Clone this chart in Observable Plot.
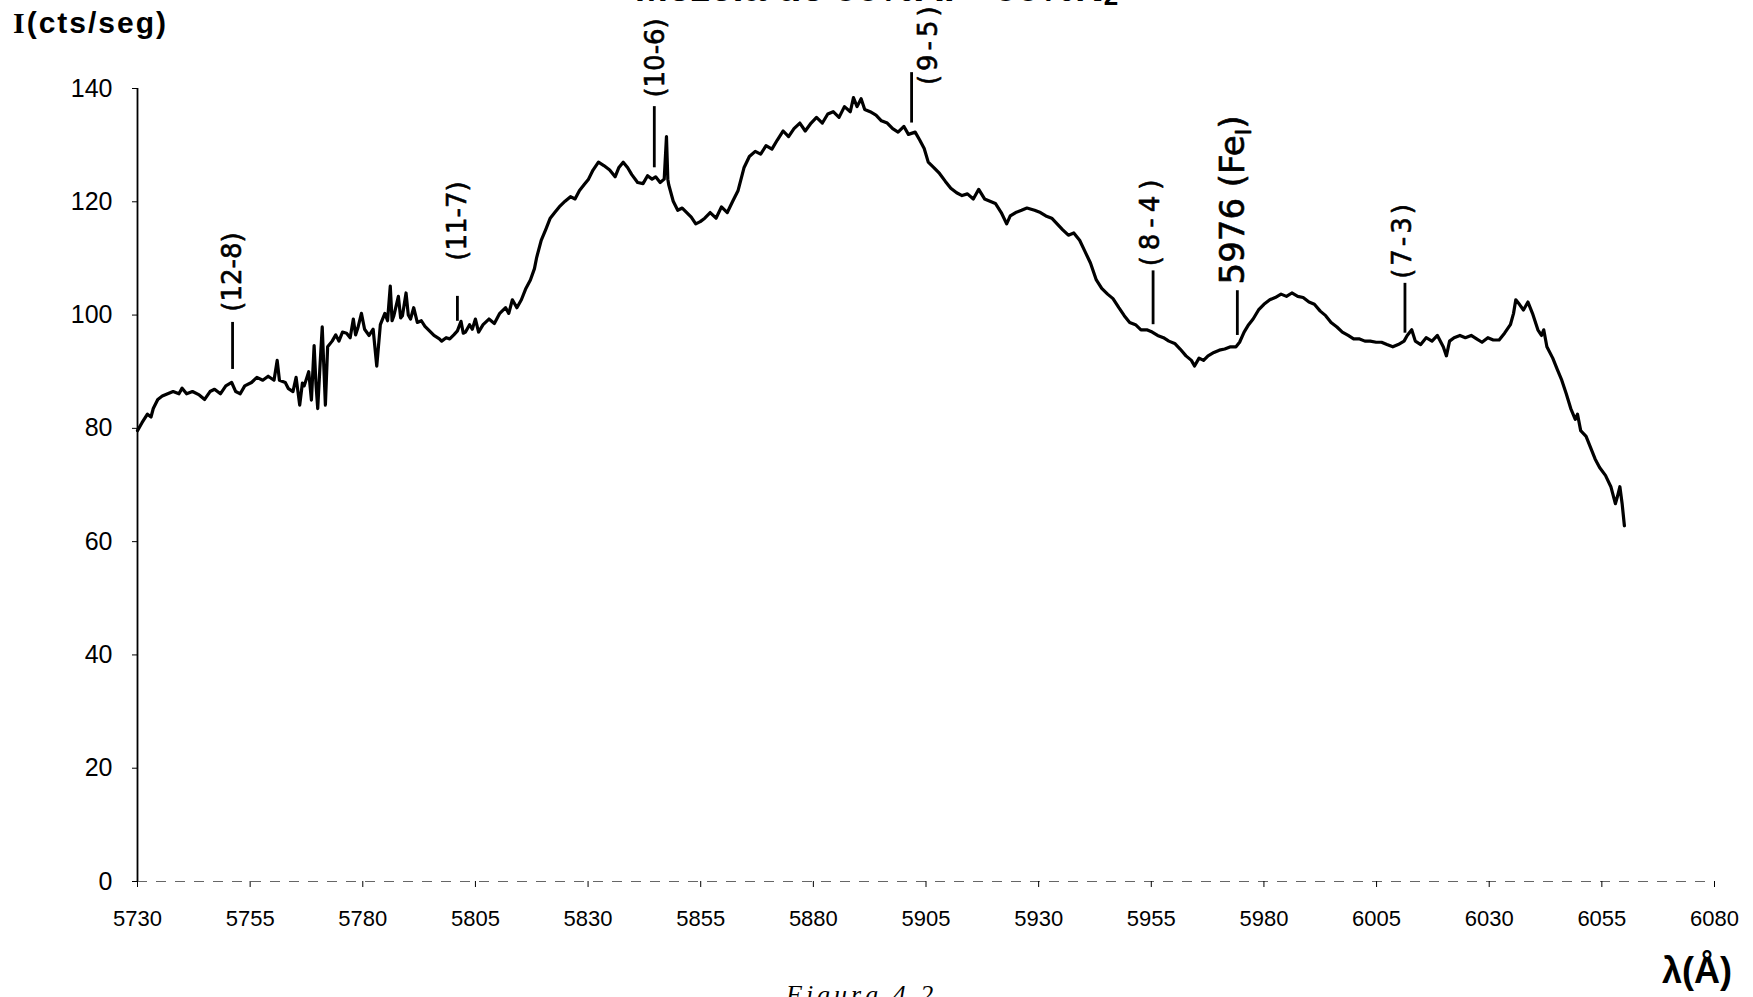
<!DOCTYPE html>
<html>
<head>
<meta charset="utf-8">
<script src="https://cdn.jsdelivr.net/npm/d3@7"></script>
<script src="https://cdn.jsdelivr.net/npm/@observablehq/plot@0.6"></script>
<style>
  html, body { margin: 0; padding: 0; background: #fff; }
  #wrap { position: relative; width: 1753px; height: 997px; overflow: hidden; background: #fff; }
  #chart { position: absolute; left: 0; top: 0; }
  .ov { position: absolute; white-space: nowrap; color: #000; }
</style>
</head>
<body>
<div id="wrap">
  <div id="chart"></div>
  <div class="ov" id="title" style="left:0;width:1753px;text-align:center;top:-35px;font:bold 40px 'Liberation Sans',Arial,sans-serif;">Mezcla de 50%Ar - 50%N<sub style="font-size:26px;vertical-align:-4px">2</sub></div>
  <div class="ov" id="ylab" style="left:13px;top:6px;font:bold 30px 'Liberation Sans',Arial,sans-serif;letter-spacing:2px;"><span style="font-family:'Liberation Serif',serif;">I</span>(cts/seg)</div>
  <div class="ov" id="xlab" style="left:1662px;top:950px;font:bold 36px 'Liberation Sans',Arial,sans-serif;">λ(Å)</div>
  <div class="ov" id="cap" style="left:786px;top:980px;font:italic 26px 'Liberation Serif',serif;letter-spacing:4px;">Figura 4.2</div>
</div>
<script>
// Wavelength (Å) and intensity (cts/seg)
const wavelength = [
5730.0,5731.0,5732.2,5733.0,5733.5,5734.5,5735.5,5736.7,5737.9,5739.2,5739.9,5740.9,5742.2,5743.7,5744.9,5746.1,5747.1,5748.4,5749.6,5750.9,
5751.8,5752.8,5753.8,5755.3,5756.5,5757.8,5759.0,5760.3,5761.0,5761.5,5762.8,5763.5,5764.5,5765.2,5766.0,5766.6,5767.0,5768.0,5768.6,5769.2,
5769.6,5770.0,5770.5,5771.0,5771.4,5771.7,5772.2,5773.2,5774.0,5774.7,5775.5,5776.4,5777.2,5777.9,5778.4,5778.9,5779.7,5780.4,5781.4,5782.3,
5783.1,5783.9,5784.9,5785.5,5786.1,5786.5,5786.9,5787.9,5788.4,5788.8,5789.6,5790.1,5790.6,5791.3,5792.1,5793.0,5793.8,5795.8,5797.0,5797.5,
5798.5,5799.3,5800.2,5801.0,5801.8,5802.3,5802.8,5803.7,5804.3,5805.0,5805.7,5806.7,5808.0,5809.2,5810.4,5811.7,5812.4,5813.2,5814.2,5815.2,
5816.2,5817.2,5818.1,5818.6,5819.6,5820.6,5821.6,5822.6,5823.6,5824.9,5826.1,5827.1,5828.1,5829.1,5830.1,5831.1,5832.3,5833.5,5834.8,5836.0,
5836.8,5837.8,5838.8,5839.7,5841.0,5842.2,5843.2,5844.2,5845.0,5846.0,5846.9,5847.4,5847.7,5847.9,5848.9,5849.9,5850.9,5851.9,5852.9,5853.9,
5854.9,5855.9,5857.1,5858.4,5859.6,5860.9,5862.1,5863.3,5864.6,5865.8,5867.1,5868.3,5869.5,5870.8,5872.0,5873.3,5874.5,5875.7,5877.0,5878.2,
5879.5,5880.7,5882.0,5883.2,5884.4,5885.7,5886.9,5888.2,5888.9,5889.7,5890.6,5891.4,5892.6,5893.9,5895.1,5896.4,5897.6,5898.8,5900.1,5901.1,
5902.6,5903.6,5904.6,5905.5,5906.8,5908.0,5909.3,5910.5,5911.8,5913.0,5914.2,5915.5,5916.7,5918.0,5919.2,5920.4,5921.7,5922.9,5923.7,5924.9,
5926.2,5927.4,5929.1,5930.4,5931.6,5932.9,5934.1,5935.3,5936.6,5937.8,5939.1,5940.3,5941.5,5942.8,5944.0,5945.3,5946.5,5947.8,5949.0,5950.2,
5951.5,5952.7,5954.0,5955.2,5956.4,5957.7,5958.9,5960.2,5961.4,5962.7,5963.9,5964.6,5965.6,5966.6,5967.6,5968.9,5970.1,5971.3,5972.6,5973.8,
5974.6,5975.6,5976.6,5977.6,5978.8,5980.0,5981.3,5982.5,5983.8,5985.0,5986.2,5987.5,5988.7,5990.0,5991.2,5992.5,5993.7,5994.9,5996.2,5997.4,
5998.7,5999.9,6001.1,6002.4,6003.6,6004.9,6006.1,6007.3,6008.6,6009.8,6011.1,6011.8,6012.8,6013.6,6014.8,6016.0,6017.3,6018.5,6019.8,6020.5,
6021.2,6022.2,6023.5,6024.7,6026.0,6027.2,6028.4,6029.7,6030.9,6032.2,6033.4,6034.7,6035.4,6035.9,6036.7,6037.6,6038.6,6039.6,6040.8,6041.6,
6042.1,6042.8,6044.1,6045.1,6046.1,6047.1,6048.1,6049.1,6049.6,6050.3,6051.5,6052.5,6053.5,6054.5,6055.8,6057.0,6058.0,6058.5,6059.0,6059.5,
6060.0
];
const intensity = [
79.6,81.0,82.5,82.0,83.5,85.1,85.7,86.1,86.5,86.1,87.1,86.1,86.5,85.9,85.1,86.5,86.9,86.1,87.5,88.1,
86.5,86.1,87.5,88.1,89.0,88.5,89.2,88.5,92.0,88.5,88.1,87.0,86.5,89.0,84.1,88.0,87.5,90.0,85.0,94.6,
88.0,83.5,91.0,97.9,90.0,84.1,94.4,95.4,96.5,95.4,97.0,96.8,96.0,99.3,96.5,97.7,100.3,97.5,96.4,97.5,
91.0,98.3,100.3,99.0,105.1,99.0,99.9,103.3,99.5,99.9,103.9,100.0,99.3,101.3,98.7,99.0,98.0,96.4,95.8,95.4,
96.0,95.8,96.5,97.2,98.9,96.8,97.0,98.3,97.5,99.3,97.0,98.3,99.3,98.5,100.3,101.3,100.3,102.7,101.3,102.7,
104.7,106.2,108.2,110.2,113.2,115.1,117.1,118.1,119.1,120.1,120.9,120.5,122.0,123.0,124.0,125.6,127.0,126.4,125.6,124.4,
126.0,127.0,126.0,124.8,123.4,123.2,124.6,124.0,124.4,123.4,124.0,131.5,124.0,123.0,120.1,118.5,118.9,118.1,117.3,116.1,
116.5,117.1,118.1,117.1,119.1,118.1,120.1,122.0,126.0,128.0,128.9,128.4,129.9,129.3,130.9,132.5,131.5,132.9,133.9,132.5,
133.9,134.9,133.9,135.5,135.9,134.9,136.8,135.9,138.4,136.8,138.2,136.3,135.9,135.3,134.3,133.9,132.9,132.3,133.3,131.9,
132.3,130.9,129.4,127.0,126.0,125.0,123.6,122.4,121.6,121.1,121.4,120.5,122.2,120.5,120.1,119.7,118.1,116.1,117.5,118.1,
118.5,118.9,118.5,118.1,117.5,117.1,116.1,115.1,114.1,114.5,113.2,111.2,109.2,106.2,104.7,103.7,102.9,101.3,99.9,98.7,
98.3,97.4,97.4,97.0,96.4,96.0,95.4,95.0,94.0,92.8,92.0,91.0,92.4,92.0,92.8,93.4,93.8,94.0,94.4,94.4,
95.2,97.0,98.3,99.3,100.9,101.9,102.7,103.1,103.7,103.3,103.9,103.3,103.1,102.3,101.9,100.7,99.9,98.7,97.9,97.0,
96.4,95.8,95.8,95.4,95.4,95.2,95.2,94.8,94.4,94.8,95.4,96.4,97.4,95.4,94.8,96.0,95.4,96.4,94.4,92.8,
95.4,96.0,96.4,96.0,96.4,95.8,95.2,96.0,95.6,95.6,96.8,98.3,100.3,102.7,101.9,100.9,102.3,100.3,97.4,96.4,
97.4,94.4,92.4,90.4,88.5,86.1,83.5,81.6,82.5,79.6,78.6,76.6,74.6,73.1,71.7,69.7,66.7,68.1,69.7,66.7,
62.8
];

// Tick values
const xTicks = [5730,5755,5780,5805,5830,5855,5880,5905,5930,5955,5980,6005,6030,6055,6080];
const yTicks = [0,20,40,60,80,100,120,140];

// Line identifications
const annLabel = ["(12-8)","(11-7)","(10-6)","(9-5)","(8-4)","5976 (FeI)","(7-3)"];
const annWavelength = [5751.1,5801.0,5844.7,5901.8,5955.4,5974.1,6011.3];
const annLow = [90.4,98.9,126.0,133.9,98.3,96.4,96.8];
const annHigh = [98.7,103.3,136.8,142.8,107.8,104.3,105.6];
const annLabelWavelength = [5751.1,5801.0,5844.9,5905.5,5954.9,5973.2,6010.8];
const annLabelStart = [100.6,109.6,138.4,140.6,108.6,105.4,106.4];

const spectrum = wavelength.map((w, k) => ({w, i: intensity[k]}));
const ann = annLabel.map((label, k) => ({label, w: annWavelength[k], lo: annLow[k], hi: annHigh[k], lw: annLabelWavelength[k], ly: annLabelStart[k]}));
const isFe = d => d.label === "5976 (FeI)";

const chart = Plot.plot({
  width: 1753,
  height: 997,
  marginLeft: 137,
  marginRight: 39,
  marginTop: 88,
  marginBottom: 116,
  x: {domain: [5730, 6080]},
  y: {domain: [0, 140]},
  style: {fontFamily: "'Liberation Sans', Arial, sans-serif", fontSize: "22px", background: "white", overflow: "visible", color: "black"},
  marks: [
    Plot.ruleY([0], {stroke: "#666", strokeWidth: 1, strokeDasharray: "10,9"}),
    Plot.ruleX([5730], {y1: 0, y2: 140, stroke: "black", strokeWidth: 1.8}),
    Plot.axisX({ticks: xTicks, tickFormat: "d", tickSize: 6, tickPadding: 23, label: null, fontSize: 22}),
    Plot.axisY({ticks: yTicks, tickSize: 5, tickPadding: 20, label: null, fontSize: 25}),
    Plot.line(spectrum, {x: "w", y: "i", stroke: "black", strokeWidth: 3.2, strokeLinejoin: "round", strokeLinecap: "round"}),
    Plot.ruleX(ann, {x: "w", y1: "lo", y2: "hi", stroke: "black", strokeWidth: 2.8}),
    Plot.text(ann.filter(d => !isFe(d)), {x: "lw", y: "ly", text: "label", rotate: -90, textAnchor: "start", fontSize: 26, fontFamily: "'DejaVu Sans', sans-serif", fill: "black", stroke: "black", strokeWidth: 0.6}),
    Plot.text(ann.filter(isFe), {x: "lw", y: "ly", text: "label", rotate: -90, textAnchor: "start", fontSize: 34, fontFamily: "'DejaVu Sans', sans-serif", fill: "black", stroke: "black", strokeWidth: 0.6})
  ]
});
document.getElementById("chart").appendChild(chart);

// hand-lettered spacing of the short labels and subscript for Fe I
const spacing = {"(9-5)": "4px", "(8-4)": "6px", "(7-3)": "3px"};
chart.querySelectorAll("text").forEach(t => {
  const s0 = t.textContent;
  if (spacing[s0]) t.setAttribute("letter-spacing", spacing[s0]);
  if (s0 === "5976 (FeI)") {
    const target = t.querySelector("tspan") || t;
    target.textContent = "5976 (Fe";
    const ns = "http://www.w3.org/2000/svg";
    const s = document.createElementNS(ns, "tspan");
    s.setAttribute("font-size", "22");
    s.setAttribute("dy", "7");
    s.textContent = "I";
    const c = document.createElementNS(ns, "tspan");
    c.setAttribute("dy", "-7");
    c.textContent = ")";
    target.appendChild(s);
    target.appendChild(c);
  }
});
</script>
</body>
</html>
